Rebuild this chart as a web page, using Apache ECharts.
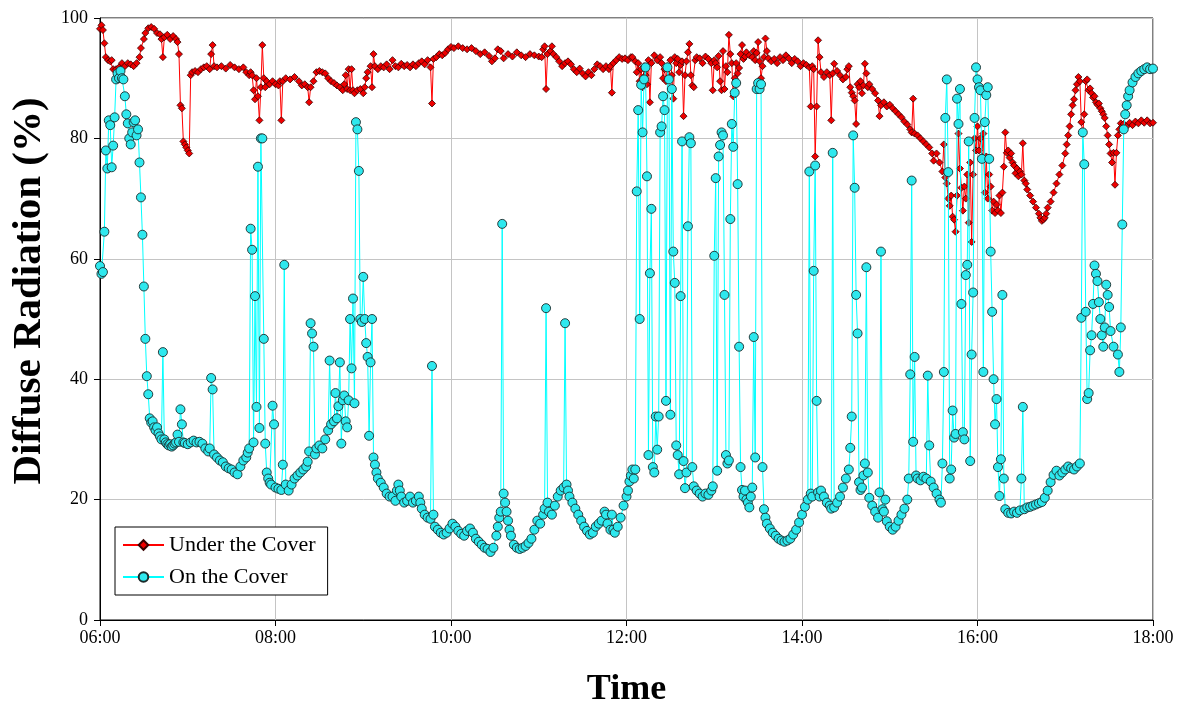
<!DOCTYPE html>
<html>
<head>
<meta charset="utf-8">
<title>Diffuse Radiation</title>
<script src="https://cdn.jsdelivr.net/npm/echarts@6/dist/echarts.min.js"></script>
<style>
  html, body { margin: 0; padding: 0; background: #ffffff; }
  #chart { width: 1185px; height: 708px; }
</style>
</head>
<body>
<div id="chart"></div>
<script>
// Time of day: minutes after 06:00. Values: diffuse radiation share in %.
const timeLabels = ['06:00', '08:00', '10:00', '12:00', '14:00', '16:00', '18:00'];
const seriesNames = ['Under the Cover', 'On the Cover'];

const underCover = [
  [0,98.2],[1,98.8],[2,98],[3,95.8],[4,93.5],[5.5,93],[7,92.8],[8,93],[9,91.5],[11,91.5],[13,91.8],[15,92.5],[17,92],[19,92.5],[21,92.3],[23,92],[25,92.5],[27,93.5],[28,95],[30,96.5],[31,97.5],[33,98.3],[35,98.5],[37,98.2],[39,97.5],[41,97.3],[42,96.5],[43,93.5],[44,96.8],[46,97.2],[48,96.5],[50,97],[52,96.5],[53,96],[54,94],[55,85.5],[56,85],[57,79.5],[58,79],[59,78.5],[60,78],[61,77.5],[62,90.5],[63,91],[65,91.2],[67,91],[69,91.5],[71,91.8],[73,92],[75,91.5],[76,94],[77,95.5],[78,92],[80,91.8],[83,92],[86,91.6],[89,92.2],[92,91.8],[95,91.5],[98,91.8],[100,91],
  [102,90.5],[103,91],[104,90.5],[105,88],[106,86.5],[107,90],[108,87],[109,83],[110,88.5],[111,95.5],[112,90],[113,88.5],[114,89.5],[116,89],[118,89.5],[120,89],[122,88.8],[123,89.5],[124,83],[125,89.5],[127,90],[130,89.8],[133,90.2],[136,89.5],[138,88.8],[140,89],[142,88.5],[143,86],[144,88.5],[146,89.5],[148,91],[150,91.2],[152,91],[154,90.8],[156,90],[158,89.5],[160,89.2],[162,88.8],[164,88.5],[166,88],[167,89],[168,90.5],[169,88.2],[170,91.5],[171,88],[172,91.5],[173,88],[174,87.5],[176,88],[178,88.2],[180,87.5],[181,88.5],[182,90],[183,91],[185,92],[186,88.5],[187,94],[188,92],[190,91.5],[192,92],[194,91.8],[196,92.3],[198,91.5],[200,93],
  [202,92],[204,91.8],[206,92.4],[208,92],[210,92.2],[212,91.8],[214,92.3],[216,92],[218,92.5],[220,92.8],[222,92.3],[224,93],[226,91.8],[227,85.8],[228,93.2],[230,93.5],[232,94],[234,93.8],[236,94.2],[238,94.8],[240,95.2],[242,95],[245,95.3],[248,95],[251,94.8],[254,95],[257,94.5],[260,94],[263,94.3],[266,93.7],[268,92.8],[270,93.3],[272,94.8],[274,94.5],[276,93.3],[279,94],[282,93.6],[285,94.3],[288,93.8],[291,93.5],[294,94],[297,93.8],[300,93.6],
  [302,93.5],[303,94.8],[304,95.3],[305,88.2],[306,94],[308,94.5],[309,95.3],[310,94],[312,93.5],[314,92.8],[316,92],[318,92.5],[320,92.8],[322,92.3],[324,91.5],[326,91],[328,91.6],[330,90.8],[332,90.3],[334,91],[336,90.5],[338,91.5],[340,92.3],[342,92],[344,91.5],[346,92],[348,91.5],[349,92],[350,87.6],[351,92.5],[353,93],[355,93.5],[357,93.2],[359,93.3],[361,93],[363,93.5],[364,93.5],[366,92.8],[367,91],[368,92.5],[369,89.5],[370,91.5],[371,88.5],[372,92],[373,90.5],[374,89],[375,93],[376,86],[377,92.5],[379,93.8],[381,93],[383,93.5],[384,92.5],[385,90],[386,91.5],[387,89.5],[388,92],[389,89.8],[390,93],[391,90.5],[392,86.6],[393,93.5],[394,92.5],[395,93.2],[396,91],[397,92.2],[398,92.8],[399,83.7],[400,90.5],
  [401,92.8],[402,94.3],[403,95.7],[404,90.5],[405,88.8],[406,88.5],[407,93],[408,93.5],[410,93.3],[412,92.5],[414,93.6],[416,93.2],[418,92.5],[419,88],[420,93],[421,92.5],[422,91.8],[423,93.7],[424,89.5],[425,88],[426,94.5],[427,88.2],[428,92],[429,91],[430,97.2],[431,94],[432,92.5],[433,87],[434,90],[435,92.5],[436,90.8],[437,91.7],[438,94],[439,95.5],[440,93.2],[441,93.6],[442,94.3],[444,93.8],[446,93.5],[447,94.5],[448,93],[449,94.2],[450,96],[451,92.8],[452,90],[453,92],[454,93.5],[455,96.6],[456,94.5],[457,93.3],[459,92.8],[461,93.2],[463,92.5],[465,93.5],[467,93],[469,93.8],[471,93.3],[473,92.5],[475,93.2],[477,92.8],[479,92],[481,92.5],[483,92.2],[485,91.8],[486,85.3],[487,92],[488,91.5],[489,77],[490,85.3],[491,96.3],[492,93.5],[493,91],[495,90.2],[497,91],[499,90.5],[500,83],
  [501,90.8],[502,92.4],[504,91.2],[506,90.5],[508,89.8],[510,90.2],[511,91.5],[512,92],[513,88.5],[514,87.6],[515,87],[516,86.3],[517,82.4],[518,89],[519,88.5],[520,89.5],[521,87.5],[522,88.8],[523,92.4],[524,90.8],[525,88.5],[526,89],[528,88.2],[530,87.5],[532,86.3],[533,83.7],[534,85.5],[536,86],[538,85.3],[540,85.6],[542,85],[544,84.5],[546,84],[548,83.5],[550,82.8],[552,82.3],[554,81.5],[555,81],[556,86.6],[557,80.8],[559,80.5],[561,80],[563,79.5],[565,79],[567,78.5],[569,77.5],[570,76.3],[572,77.5],[574,76],[576,74.5],[577,79],[578,73.5],[579,72.5],[580,70],[581,68.8],[582,70.5],[583,67],[584,66.5],[585,64.5],[586,70.5],[587,80.8],[588,75],[589,71.8],[590,68],[591,72],[592,70],[593,74],[594,66],[595,76],[596,62.8],[597,74],[598,80],[599,78],[600,82],
  [601,78],[602,80],[603,77],[604,80.8],[605,71],[606,77],[607,70],[608,74],[609,72],[610,68],[611,69.5],[612,67.6],[613,69],[614,68],[615,70.5],[616,67.6],[617,71],[618,75.3],[619,81],[620,77.6],[621,78],[622,76.8],[623,77.5],[624,76],[625,75.5],[626,74.2],[627,75],[628,73.7],[629,74.5],[630,74],[631,79.2],[632,73],[633,72.5],[634,71.5],[636,70.5],[638,69.5],[640,68.5],[642,67.5],[643,66.8],[644,66.3],[645,66.5],[646,66.8],[647,67.5],[648,68.5],[650,69.5],[652,71],[654,72.5],[656,74],[658,75.5],[660,77.5],[661,79],[662,80.5],[663,82],[664,84],[665,85.5],[666,86.5],[667,88],[668,89],[669,90.2],[670,89.5],[671,82.7],[672,80.8],[673,84],[674,89.5],[675,89.8],[676,88],[677,88.3],[678,87.5],[679,86.8],[680,87],[681,86],[682,85.6],[683,85.8],[684,85],[685,84.5],[686,84],[687,83.4],[688,82],[689,80.5],[690,79],[691,77.5],[692,76],[693,77.6],[694,72.3],[695,77.6],[696,80.5],[697,81.5],[698,82.5],[699,82],[700,82.4],[702,82],[704,82.6],[706,82.2],[708,82.8],[710,82.5],[712,83],[714,82.6],[716,83],[718,82.5],[720,82.6]
];

const onCover = [
  [0,58.8],[1,57.5],[2,57.8],[3,64.5],[4,78],[5,75],[6,83],[7,82.2],[8,75.2],[9,78.8],[10,83.5],[11,89.8],[12,90.8],[13,90],[14,91.2],[15,90],[16,89.8],[17,87],[18,84],[19,82.5],[20,80],[21,79],[22,81],[23,82.7],[24,83],[25,80.5],[26,81.5],[27,76],[28,70.2],[29,64],[30,55.4],[31,46.7],[32,40.5],[33,37.5],[34,33.5],[35,32.8],[36,33],[37,32],[38,31.5],[39,32],[40,31],[41,30.5],[42,30],[43,44.5],[44,30],[45,29.5],[46,29.2],[47,29],[48,29.2],[49,28.8],[50,29],[51,29.3],[52,29.5],[53,30.8],[54,29.6],[55,35],[56,32.5],[57,29.5],[58,29.4],[60,29.2],[62,29.5],[64,29.8],[66,29.5],[68,29.6],[70,29.3],[72,28.5],[74,28],[75,28.5],[76,40.2],[77,38.3],[78,27.5],[80,27],[82,26.5],[84,26.2],[86,25.5],[88,25.2],[90,25],[92,24.5],[94,24.2],[96,25.5],[98,26.5],[100,27],
  [101,27.8],[102,28.5],[103,65],[104,61.5],[105,29.5],[106,53.8],[107,35.4],[108,75.3],[109,31.9],[110,80],[111,80],[112,46.7],[113,29.3],[114,24.5],[115,23.5],[116,22.8],[117,22.5],[118,35.6],[119,32.5],[120,22],[122,21.8],[124,21.6],[125,25.8],[126,59],[127,22.5],[129,21.5],[131,22.5],[133,23.5],[135,24],[137,24.5],[139,25],[141,25.5],[142,26.3],[143,28],[144,49.3],[145,47.6],[146,45.4],[147,27.5],[148,28.5],[150,29],[152,28.5],[154,30],[156,31.5],[157,43.1],[158,32.5],[160,33],[161,37.7],[162,33.5],[163,35.5],[164,42.8],[165,29.3],[166,36.5],[167,37.3],[168,33],[169,32],[170,36.5],[171,50],[172,41.8],[173,53.4],[174,36],[175,82.7],[176,81.5],[177,74.6],[178,50],[179,49.5],[180,57],[181,50],[182,46],[183,43.7],[184,30.6],[185,42.8],[186,50],[187,27],[188,25.8],[189,24.5],[190,23.5],[192,22.8],[194,22],[196,21],[198,20.5],[200,20.5],
  [202,19.8],[203,21.5],[204,22.5],[205,21.5],[206,20.5],[208,19.5],[210,19.8],[212,20.5],[214,19.5],[216,19.8],[218,20.5],[219,19.5],[220,18.5],[222,17.5],[224,17],[226,16.8],[227,42.2],[228,17.5],[229,15.5],[231,15],[233,14.5],[235,14.2],[237,14.5],[239,15.2],[241,16],[243,15.5],[245,14.8],[247,14.3],[249,14],[251,14.8],[253,15.2],[255,14.5],[257,13.5],[259,13],[261,12.5],[263,12],[265,11.8],[267,11.3],[269,12],[271,14],[272,15.5],[273,17],[274,18],[275,65.8],[276,21],[277,19.5],[278,18],[279,16.5],[280,15],[281,14],[283,12.5],[285,12],[287,11.8],[289,12],[291,12.3],[293,12.8],[295,13.5],[297,15],[299,16.5],
  [301,16],[303,17.5],[304,18.5],[305,51.8],[306,19.5],[307,18],[309,17.5],[311,19],[313,20.5],[315,21.5],[317,22],[318,49.3],[319,22.5],[320,21.5],[321,20.5],[323,19.5],[325,18.5],[327,17.5],[329,16.5],[331,15.5],[333,14.8],[335,14.2],[337,14.5],[339,15.5],[341,16],[343,16.5],[345,18],[346,17.5],[347,16],[349,15],[350,17.5],[351,15],[352,14.5],[354,15.5],[356,17],[358,19],[360,20.5],[361,21.5],[362,23],[363,24],[364,25],[365,23.5],[366,25],[367,71.2],[368,84.7],[369,50],[370,88.9],[371,81],[372,89.8],[373,91.8],[374,73.7],[375,27.4],[376,57.6],[377,68.3],[378,25.4],[379,24.5],[380,33.8],[381,28.3],[382,33.8],[383,81],[384,82],[385,87],[386,84.7],[387,36.4],[388,91.8],[389,89.8],[390,34.1],[391,88.2],[392,61.2],[393,56],[394,29],[395,27.4],[396,24.2],[397,53.8],[398,79.5],[399,26.4],[400,21.9],
  [401,24.5],[402,65.4],[403,80.2],[404,79.2],[405,25.4],[406,22.2],[408,21.5],[410,21],[412,20.5],[414,21],[416,20.8],[418,21.5],[419,22.2],[420,60.5],[421,73.4],[422,24.8],[423,77],[424,78.9],[425,81],[426,80.5],[427,54],[428,27.4],[429,26],[430,26.5],[431,66.6],[432,82.4],[433,78.6],[434,87.6],[435,89.2],[436,72.4],[437,45.4],[438,25.4],[439,21.6],[440,20.5],[441,21.5],[442,20],[443,19.5],[444,18.7],[445,20.5],[446,22],[447,47],[448,27],[449,88.2],[450,89.2],[451,88.2],[452,89],[453,25.4],[454,18.4],[455,17],[456,16],[458,15.2],[460,14.5],[462,14],[464,13.5],[466,13.2],[468,13],[470,13.2],[472,13.5],[474,14.2],[476,15],[478,16.2],[480,17.5],[482,18.8],[484,20],[485,74.5],[486,21],[487,20.5],[488,58],[489,75.5],[490,36.4],[491,21.2],[492,20.5],[493,21.5],[495,20.5],[497,19.5],[499,19],[500,18.5],
  [501,77.6],[502,18.7],[504,19.5],[506,20.5],[508,22],[510,23.5],[512,25],[513,28.6],[514,33.8],[515,80.5],[516,71.8],[517,54],[518,47.6],[519,22.9],[520,21.6],[521,22],[522,24],[523,26],[524,58.6],[525,24.5],[526,20.3],[528,19],[530,18],[532,17],[533,21.2],[534,61.2],[535,18.4],[536,18],[537,20],[538,16.4],[540,15.5],[542,15],[544,15.5],[546,16.5],[548,17.5],[550,18.5],[552,20],[553,23.5],[554,40.8],[555,73],[556,29.6],[557,43.7],[558,24],[559,23.5],[561,23.2],[563,23.8],[565,23.5],[566,40.6],[567,29],[568,23],[570,22],[572,21],[574,20],[575,19.5],[576,26],[577,41.2],[578,83.4],[579,89.8],[580,74.4],[581,23.5],[582,25],[583,34.8],[584,30.3],[585,30.9],[586,86.6],[587,82.4],[588,88.2],[589,52.5],[590,31.2],[591,30],[592,57.3],[593,59],[594,79.5],[595,26.4],[596,44.1],[597,54.4],[598,83.4],[599,91.8],[600,89.8],
  [601,88.5],[602,88],[603,76.6],[604,41.2],[605,82.7],[606,87.2],[607,88.5],[608,76.6],[609,61.2],[610,51.2],[611,40],[612,32.5],[613,36.7],[614,25.4],[615,20.6],[616,26.7],[617,54],[618,23.5],[619,18.4],[621,17.8],[623,17.7],[625,18],[627,17.8],[629,18.2],[630,23.5],[631,35.4],[632,18.4],[634,18.7],[636,18.8],[638,19],[640,19.2],[642,19.4],[644,19.6],[646,20.3],[648,21.5],[650,22.9],[652,24.1],[654,24.8],[656,24],[658,24.5],[660,25],[662,25.5],[664,25.2],[666,25],[668,25.5],[670,26],[671,50.2],[672,81],[673,75.7],[674,51.2],[675,36.7],[676,37.7],[677,44.8],[678,47.3],[679,52.5],[680,58.9],[681,57.5],[682,56.3],[683,52.8],[684,50],[685,47.3],[686,45.4],[687,48.6],[688,55.7],[689,54],[690,52],[691,48],[693,45.4],[696,44.1],[697,41.2],[698,48.6],[699,65.7],[700,81.5],[701,84],[702,85.5],[703,87],[704,88],[706,89.3],[708,90.2],[710,90.8],[712,91.2],[714,91.5],[716,91.8],[718,91.5],[720,91.6]
];

const serif = '"Liberation Serif", "DejaVu Serif", serif';
const chart = echarts.init(document.getElementById('chart'), null, { renderer: 'canvas' });

chart.setOption({
  animation: false,
  backgroundColor: '#ffffff',
  grid: {
    left: 100, right: 32, top: 18, bottom: 88,
    outerBoundsMode: 'none',
    containLabel: false,
    show: true, borderColor: '#000000', borderWidth: 1, backgroundColor: 'transparent'
  },
  legend: {
    orient: 'vertical',
    left: 115, top: 527,
    data: seriesNames,
    backgroundColor: '#ffffff',
    borderColor: '#000000', borderWidth: 1,
    padding: [7, 12, 7, 7],
    itemWidth: 41, itemHeight: 12, itemGap: 10,
    textStyle: { fontFamily: serif, fontSize: 22, color: '#000000' }
  },
  xAxis: {
    type: 'value',
    min: 0, max: 720, interval: 120,
    name: 'Time',
    nameLocation: 'middle',
    nameGap: 52,
    nameTextStyle: { fontFamily: serif, fontSize: 36, fontWeight: 'bold', color: '#000000' },
    axisLine: { show: true, lineStyle: { color: '#000000', width: 1 } },
    axisTick: { show: true, inside: false, length: 6, lineStyle: { color: '#000000' } },
    axisLabel: {
      margin: 9, fontFamily: serif, fontSize: 18, color: '#000000',
      formatter: v => timeLabels[Math.round(v / 120)]
    },
    splitLine: { show: true, lineStyle: { color: '#c4c4c4', width: 1 } }
  },
  yAxis: {
    type: 'value',
    min: 0, max: 100, interval: 20,
    name: 'Diffuse Radiation (%)',
    nameLocation: 'middle',
    nameRotate: 90,
    nameGap: 50,
    nameTextStyle: {
      fontFamily: serif, fontSize: 41, fontWeight: 'bold', color: '#000000',
      padding: [0, 0, 0, 56]
    },
    axisLine: { show: true, lineStyle: { color: '#000000', width: 1 } },
    axisTick: { show: true, inside: false, length: 6, lineStyle: { color: '#000000' } },
    axisLabel: { margin: 12, fontFamily: serif, fontSize: 18, color: '#000000' },
    splitLine: { show: true, lineStyle: { color: '#c4c4c4', width: 1 } }
  },
  series: [
    {
      name: seriesNames[0],
      type: 'line',
      data: underCover,
      showAllSymbol: true,
      symbol: 'diamond',
      symbolSize: 7,
      lineStyle: { color: '#ff0000', width: 1 },
      itemStyle: { color: '#ee0000', borderColor: '#3a0000', borderWidth: 0.8 },
      emphasis: { disabled: true },
      z: 2
    },
    {
      name: seriesNames[1],
      type: 'line',
      data: onCover,
      showAllSymbol: true,
      symbol: 'circle',
      symbolSize: 9,
      lineStyle: { color: '#00ffff', width: 1 },
      itemStyle: { color: '#2ee8ee', borderColor: '#1a2a2a', borderWidth: 0.9 },
      emphasis: { disabled: true },
      z: 3
    }
  ]
});
</script>
</body>
</html>
